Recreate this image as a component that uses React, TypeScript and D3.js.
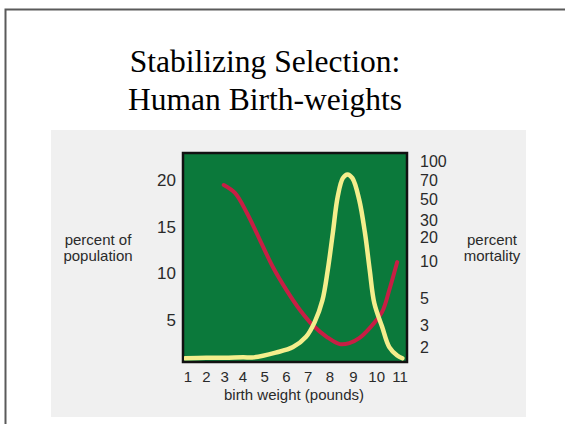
import React, { useEffect, useRef } from 'react';
import * as d3 from 'd3';

// birth weight (pounds) on the x axis
const weightTicks = [1, 2, 3, 4, 5, 6, 7, 8, 9, 10, 11];
const populationTicks = [5, 10, 15, 20];
const mortalityTicks = [2, 3, 5, 10, 20, 30, 50, 70, 100];

// yellow curve: percent of population
const popWeight = [0.85, 2, 3, 4, 4.5, 5.5, 6.3, 6.9, 7.3, 7.65, 7.9, 8.12, 8.33, 8.55, 8.75, 8.96, 9.25, 9.5, 9.7, 9.9, 10.23, 10.54, 10.88, 11.1];
const popPercent = [0.9, 0.95, 0.95, 1.0, 1.0, 1.5, 2.1, 3.2, 4.8, 7.1, 10.4, 14.3, 18.2, 20.2, 20.6, 20.2, 17.9, 14.3, 10.4, 6.8, 4.3, 2.1, 1.2, 0.9];

// red curve: percent mortality (log axis)
const mortWeight = [2.95, 3.56, 4.18, 4.78, 5.38, 6.0, 6.62, 7.2, 7.86, 8.42, 8.83, 9.25, 9.7, 10.23, 10.54, 10.88];
const mortPercent = [64.5, 55.8, 35.7, 18.3, 8.9, 5.8, 4.0, 3.02, 2.41, 2.11, 2.15, 2.36, 2.85, 3.85, 5.8, 9.8];

const StabilizingChart = () => {
  const svgRef = useRef<SVGSVGElement>(null);

  useEffect(() => {
    const svg = d3.select(svgRef.current);
    svg.selectAll('*').remove();

    const width = 565;
    const height = 424;
    const plot = { left: 183, top: 153, right: 407, bottom: 362 };
    const font = '"Liberation Sans", Arial, sans-serif';
    const ink = '#2a2a2a';

    // slide frame
    svg.append('rect')
      .attr('x', 5.5).attr('y', 9.5)
      .attr('width', 700).attr('height', 600)
      .attr('fill', 'white')
      .attr('stroke', '#5a5a5a')
      .attr('stroke-width', 2);

    // title
    const title = svg.append('text')
      .attr('text-anchor', 'middle')
      .style('font-family', '"Liberation Serif", "Times New Roman", serif')
      .attr('font-size', 31.5)
      .attr('fill', '#000');
    title.append('tspan').attr('x', 265).attr('y', 72).text('Stabilizing Selection:');
    title.append('tspan').attr('x', 265).attr('y', 110).text('Human Birth-weights');

    // grey panel
    svg.append('rect')
      .attr('x', 51).attr('y', 130)
      .attr('width', 475).attr('height', 287)
      .attr('fill', '#f0f0f0');

    // scales (the hand-drawn axes are not evenly spaced)
    const xScale = d3.scaleLinear()
      .domain([1, 4, 8, 11])
      .range([188, 243, 330, 400]);

    const yPop = d3.scaleLinear()
      .domain([0, 20])
      .range([366.7, 180]);

    const yMort = d3.scaleLog()
      .domain([2, 10, 20, 50, 100])
      .range([347, 261, 237, 199, 161]);

    // green plot area
    svg.append('rect')
      .attr('x', plot.left).attr('y', plot.top)
      .attr('width', plot.right - plot.left)
      .attr('height', plot.bottom - plot.top)
      .attr('fill', '#0b793b')
      .attr('stroke', '#111')
      .attr('stroke-width', 2.5);

    const clipId = 'plot-clip';
    svg.append('clipPath').attr('id', clipId)
      .append('rect')
      .attr('x', plot.left + 1).attr('y', plot.top + 1)
      .attr('width', plot.right - plot.left - 2)
      .attr('height', plot.bottom - plot.top - 2);

    const g = svg.append('g').attr('clip-path', `url(#${clipId})`);

    const mortLine = d3.line<number>()
      .x((d, i) => xScale(mortWeight[i]))
      .y(d => yMort(d))
      .curve(d3.curveCatmullRom);

    g.append('path')
      .attr('d', mortLine(mortPercent))
      .attr('fill', 'none')
      .attr('stroke', '#c81e44')
      .attr('stroke-width', 4)
      .attr('stroke-linecap', 'round');

    const popLine = d3.line<number>()
      .x((d, i) => xScale(popWeight[i]))
      .y(d => yPop(d))
      .curve(d3.curveCatmullRom);

    g.append('path')
      .attr('d', popLine(popPercent))
      .attr('fill', 'none')
      .attr('stroke', '#f4ee8c')
      .attr('stroke-width', 4.5)
      .attr('stroke-linecap', 'round');

    // x tick labels
    svg.selectAll('.xtick')
      .data(weightTicks)
      .enter()
      .append('text')
      .classed('xtick', true)
      .attr('x', d => xScale(d))
      .attr('y', 382)
      .attr('text-anchor', 'middle')
      .style('font-family', font)
      .attr('font-size', 15)
      .attr('fill', ink)
      .text(d => d);

    svg.append('text')
      .attr('x', 294)
      .attr('y', 400)
      .attr('text-anchor', 'middle')
      .style('font-family', font)
      .attr('font-size', 15)
      .attr('fill', ink)
      .text('birth weight (pounds)');

    // left axis labels
    svg.selectAll('.ytick')
      .data(populationTicks)
      .enter()
      .append('text')
      .classed('ytick', true)
      .attr('x', 176)
      .attr('y', d => yPop(d))
      .attr('dy', '0.36em')
      .attr('text-anchor', 'end')
      .style('font-family', font)
      .attr('font-size', 17)
      .attr('fill', ink)
      .text(d => d);

    const leftLabel = svg.append('text')
      .attr('text-anchor', 'middle')
      .style('font-family', font)
      .attr('font-size', 15)
      .attr('fill', ink);
    leftLabel.append('tspan').attr('x', 98).attr('y', 245).text('percent of');
    leftLabel.append('tspan').attr('x', 98).attr('y', 261).text('population');

    // right axis labels
    svg.selectAll('.mtick')
      .data(mortalityTicks)
      .enter()
      .append('text')
      .classed('mtick', true)
      .attr('x', 420)
      .attr('y', d => yMort(d))
      .attr('dy', '0.36em')
      .attr('text-anchor', 'start')
      .style('font-family', font)
      .attr('font-size', 16)
      .attr('fill', ink)
      .text(d => d);

    const rightLabel = svg.append('text')
      .attr('text-anchor', 'middle')
      .style('font-family', font)
      .attr('font-size', 15)
      .attr('fill', ink);
    rightLabel.append('tspan').attr('x', 492).attr('y', 245).text('percent');
    rightLabel.append('tspan').attr('x', 492).attr('y', 261).text('mortality');

    svg.attr('width', width).attr('height', height);
  }, []);

  return (
    <svg
      ref={svgRef}
      width={565}
      height={424}
      style={{ position: 'absolute', left: 0, top: 0, background: 'white' }}
    />
  );
};

export default function App() {
  return <StabilizingChart />;
}
